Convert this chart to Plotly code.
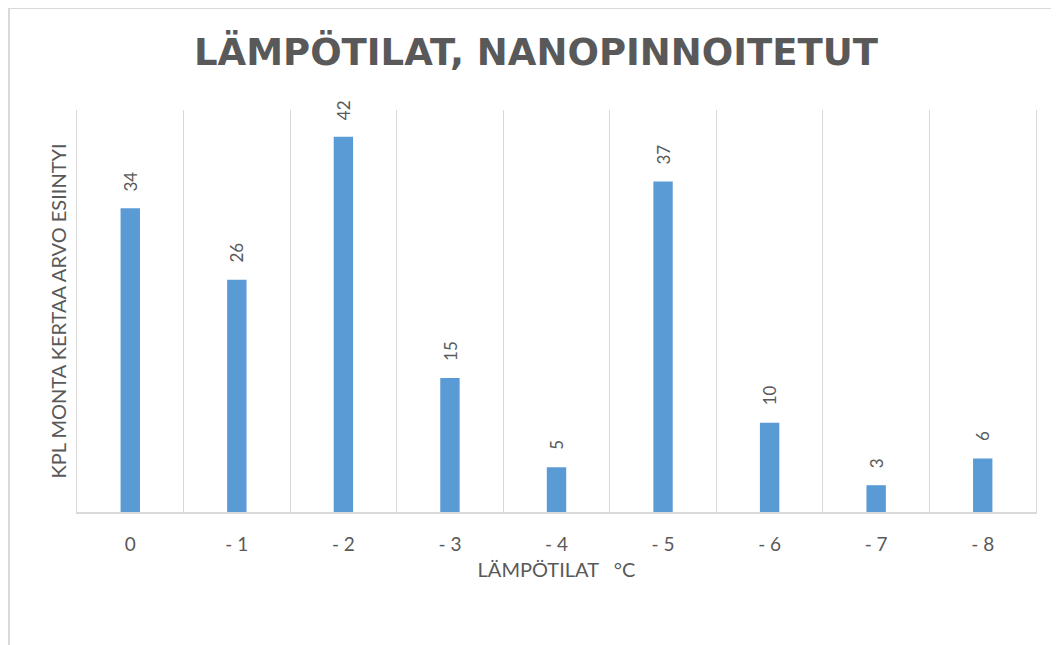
import plotly.graph_objects as go

categories = ["0", "- 1", "- 2", "- 3", "- 4", "- 5", "- 6", "- 7", "- 8"]
counts = [34, 26, 42, 15, 5, 37, 10, 3, 6]

title_text = "LÄMPÖTILAT, NANOPINNOITETUT"
x_title = "LÄMPÖTILAT   °C"
y_title = "KPL MONTA KERTAA ARVO ESIINTYI"

grey = "#595959"
line_grey = "#d9d9d9"
font_main = "Lato, 'Open Sans', sans-serif"

fig = go.Figure(
    go.Bar(
        x=categories,
        y=counts,
        marker=dict(color="#5b9bd5", line=dict(width=0)),
        hoverinfo="x+y",
    )
)

# data labels above bars, rotated
for c, v in zip(categories, counts):
    fig.add_annotation(
        x=c, y=v, xref="x", yref="y",
        text=str(v), showarrow=False, textangle=-90,
        xanchor="center", yanchor="bottom", yshift=15,
        font=dict(family=font_main, size=17, color=grey),
    )

# the page body has an 8px margin; the figure is sized to fit the window
OFF = 8
W, H = 1059 - OFF, 645 - OFF
ml, mr, mt, mb = 77 - OFF, 23, 110 - OFF, 133
pw, ph = W - ml - mr, H - mt - mb

def px_x(p):
    return (p - ml) / pw

def px_y(p):
    return (H - mb - p) / ph

fig.update_layout(
    width=W,
    height=H,
    margin=dict(l=ml, r=mr, t=mt, b=mb, pad=0),
    paper_bgcolor="white",
    plot_bgcolor="white",
    bargap=0.818,
    showlegend=False,
    title=dict(
        text=title_text,
        font=dict(family="'DejaVu Sans', sans-serif", size=37, color=grey, weight="bold"),
        x=px_x(536 - OFF), xref="paper", xanchor="center",
        y=1 - (52 - OFF) / H, yref="container", yanchor="middle",
    ),
    xaxis=dict(
        type="category",
        tickson="boundaries",
        showgrid=True,
        gridcolor=line_grey,
        gridwidth=1,
        showline=True,
        linecolor=line_grey,
        linewidth=2,
        ticks="",
        tickfont=dict(family=font_main, size=19, color=grey),
        ticklabelstandoff=14,
        title=dict(text=x_title, font=dict(family=font_main, size=20, color=grey), standoff=9),
    ),
    yaxis=dict(
        range=[0, 45],
        showgrid=False,
        zeroline=False,
        showticklabels=False,
        ticks="",
        showline=True,
        mirror=True,
        linecolor=line_grey,
        linewidth=1,
        title=dict(text=y_title, font=dict(family=font_main, size=20, color=grey), standoff=4),
    ),
    shapes=[
        dict(
            type="rect", xref="paper", yref="paper",
            x0=px_x(1), x1=px_x(W + 20), y0=px_y(H + 20), y1=px_y(0),
            line=dict(color=line_grey, width=2), fillcolor="rgba(0,0,0,0)", layer="below",
        )
    ],
)

fig.write_html("out.html")
